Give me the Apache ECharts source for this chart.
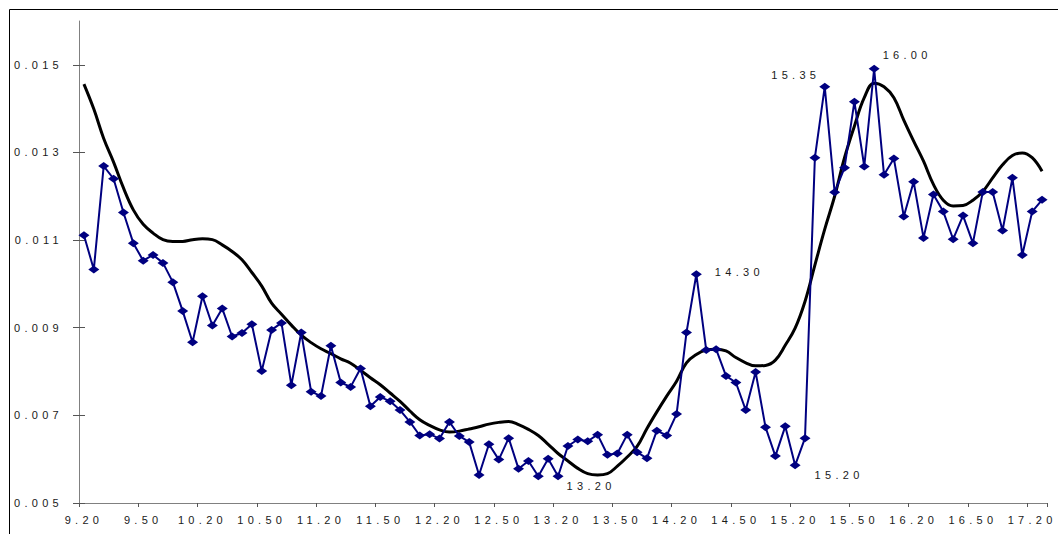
<!DOCTYPE html>
<html><head><meta charset="utf-8">
<script src="https://cdn.jsdelivr.net/npm/echarts@6/dist/echarts.min.js"></script>
<style>
html,body{margin:0;padding:0;background:#fff;}
#main{width:1058px;height:534px;}
#main svg text{letter-spacing:4.3px;}
</style></head><body><div id="main"></div>
<script>
const categories = [
'9.20','9.25','9.30','9.35','9.40','9.45','9.50','9.55',
'10.00','10.05','10.10','10.15','10.20','10.25','10.30','10.35','10.40','10.45','10.50','10.55',
'11.00','11.05','11.10','11.15','11.20','11.25','11.30','11.35','11.40','11.45','11.50','11.55',
'12.00','12.05','12.10','12.15','12.20','12.25','12.30','12.35','12.40','12.45','12.50','12.55',
'13.00','13.05','13.10','13.15','13.20','13.25','13.30','13.35','13.40','13.45','13.50','13.55',
'14.00','14.05','14.10','14.15','14.20','14.25','14.30','14.35','14.40','14.45','14.50','14.55',
'15.00','15.05','15.10','15.15','15.20','15.25','15.30','15.35','15.40','15.45','15.50','15.55',
'16.00','16.05','16.10','16.15','16.20','16.25','16.30','16.35','16.40','16.45','16.50','16.55',
'17.00','17.05','17.10','17.15','17.20','17.25'
];
const observed = [
0.01111, 0.01033, 0.01269, 0.01240, 0.01163, 0.01093, 0.01053, 0.01066, 0.01048, 0.01004,
0.00938, 0.00867, 0.00972, 0.00905, 0.00944, 0.00880, 0.00888, 0.00908, 0.00801, 0.00895,
0.00911, 0.00769, 0.00889, 0.00754, 0.00744, 0.00859, 0.00775, 0.00765, 0.00807, 0.00721,
0.00742, 0.00732, 0.00712, 0.00685, 0.00654, 0.00657, 0.00647, 0.00685, 0.00653, 0.00639,
0.00564, 0.00634, 0.00599, 0.00648, 0.00578, 0.00596, 0.00561, 0.00601, 0.00561, 0.00630,
0.00645, 0.00641, 0.00656, 0.00610, 0.00613, 0.00656, 0.00616, 0.00602, 0.00665, 0.00654,
0.00703, 0.00889, 0.01022, 0.00849, 0.00851, 0.00790, 0.00775, 0.00712, 0.00799, 0.00673,
0.00607, 0.00675, 0.00586, 0.00648, 0.01288, 0.01450, 0.01209, 0.01265, 0.01416, 0.01268,
0.01491, 0.01249, 0.01286, 0.01154, 0.01233, 0.01105, 0.01204, 0.01165, 0.01102, 0.01156,
0.01093, 0.01210, 0.01210, 0.01122, 0.01242, 0.01066, 0.01165, 0.01192
];
const smoothed = [
0.01456, 0.01399, 0.01332, 0.01278, 0.01219, 0.01169, 0.01136, 0.01116, 0.01101, 0.01097,
0.01097, 0.01101, 0.01103, 0.01101, 0.01089, 0.01074, 0.01055, 0.01026, 0.00995, 0.00956,
0.00931, 0.00906, 0.00883, 0.00866, 0.00852, 0.00841, 0.00829, 0.00819, 0.00803, 0.00786,
0.00770, 0.00751, 0.00732, 0.00710, 0.00690, 0.00677, 0.00667, 0.00662, 0.00664, 0.00669,
0.00674, 0.00680, 0.00684, 0.00686, 0.00679, 0.00668, 0.00654, 0.00634, 0.00613, 0.00596,
0.00579, 0.00567, 0.00564, 0.00567, 0.00584, 0.00605, 0.00629, 0.00670, 0.00708, 0.00744,
0.00778, 0.00820, 0.00839, 0.00849, 0.00851, 0.00847, 0.00832, 0.00820, 0.00813, 0.00814,
0.00826, 0.00860, 0.00899, 0.00960, 0.01043, 0.01125, 0.01200, 0.01288, 0.01360, 0.01425,
0.01458, 0.01450, 0.01425, 0.01374, 0.01326, 0.01280, 0.01227, 0.01191, 0.01178, 0.01179,
0.01191, 0.01211, 0.01242, 0.01272, 0.01293, 0.01299, 0.01288, 0.01257
];
const yTickValues = [0.005, 0.007, 0.009, 0.011, 0.013, 0.015];
const annotatedTimes = ['13.20', '14.30', '15.20', '15.35', '16.00'];

const SYM_W = 11, SYM_H = 8;
const labelOffsets = {
  '13.20': [33, 10], '14.30': [43, -2], '15.20': [44, 10], '15.35': [-29, -12], '16.00': [33, -14]
};
const FONT = 'Liberation Sans, Arial, sans-serif';
const TEXT = '#1a1a1a';
const AXIS = '#808080';

const observedData = observed.map(function (v, i) {
  const t = categories[i];
  if (annotatedTimes.indexOf(t) >= 0) {
    const o = labelOffsets[t];
    return {
      value: v,
      label: {
        show: true, position: [SYM_W / 2 + o[0], SYM_H / 2 + o[1]],
        align: 'center', verticalAlign: 'middle',
        formatter: t, color: TEXT, fontSize: 11, fontFamily: FONT
      }
    };
  }
  return v;
});

const chart = echarts.init(document.getElementById('main'), null, {renderer: 'svg'});
chart.setOption({
  animation: false,
  backgroundColor: '#fff',
  graphic: [{
    type: 'rect', silent: true, z: 100,
    shape: {x: 9.5, y: 9.5, width: 1200, height: 700},
    style: {fill: 'none', stroke: '#000', lineWidth: 1}
  }],
  grid: {left: 79, right: 11, top: 21, bottom: 31, containLabel: false},
  xAxis: {
    type: 'category', data: categories, boundaryGap: true,
    axisLine: {lineStyle: {color: AXIS, width: 1}},
    axisTick: {show: true, interval: 5, length: 4, lineStyle: {color: '#555', width: 1}},
    axisLabel: {interval: 5, fontSize: 11, color: TEXT, fontFamily: FONT, margin: 11},
    splitLine: {show: false}
  },
  yAxis: [{
    type: 'value', min: 0.005, max: 0.016, position: 'left',
    axisLine: {show: true, lineStyle: {color: AXIS, width: 1}},
    axisTick: {show: true, length: 6, customValues: yTickValues, lineStyle: {color: '#555', width: 1}},
    axisLabel: {
      customValues: yTickValues, fontSize: 11, color: TEXT, fontFamily: FONT, margin: 16,
      formatter: function (v) { return v.toFixed(3); }
    },
    splitLine: {show: false}
  }, {
    type: 'value', min: 0.005, max: 0.016, position: 'left', offset: 0,
    axisLine: {show: false},
    axisTick: {show: true, inside: true, length: 6, customValues: yTickValues, lineStyle: {color: '#555', width: 1}},
    axisLabel: {show: false},
    splitLine: {show: false}
  }],
  series: [{
    name: 'trend', type: 'line', data: smoothed, yAxisIndex: 0,
    showSymbol: false, smooth: 0.4,
    lineStyle: {color: '#000', width: 3}, z: 2
  }, {
    name: 'observed', type: 'line', data: observedData, yAxisIndex: 0,
    symbol: 'diamond', symbolSize: [SYM_W, SYM_H], showSymbol: true, showAllSymbol: true,
    lineStyle: {color: '#000080', width: 2},
    itemStyle: {color: '#000080'}, z: 3
  }]
});
</script></body></html>
